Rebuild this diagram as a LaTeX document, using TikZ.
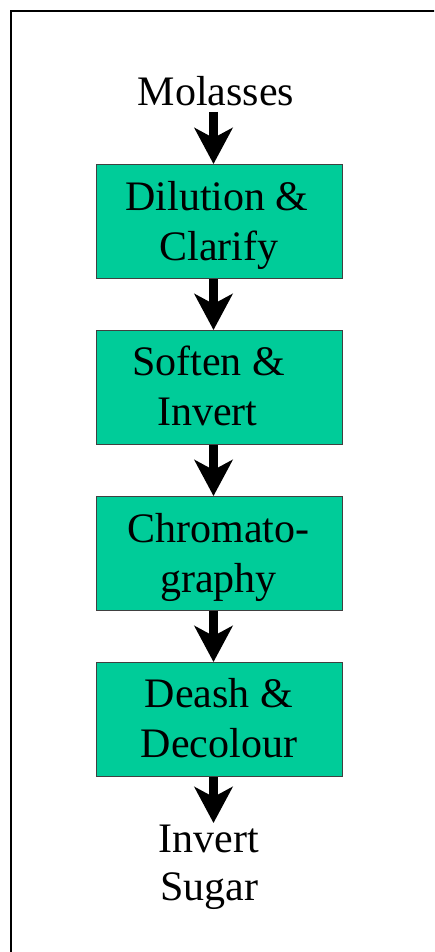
\documentclass[tikz,border=0pt]{standalone}
\usepackage{fontspec}
\setmainfont{Liberation Serif}
\usetikzlibrary{arrows.meta,calc}
\definecolor{boxgreen}{RGB}{0,204,153}
\tikzset{
  procbox/.style={draw=black!75, line width=1pt, fill=boxgreen, minimum width=246pt, minimum height=114pt, inner sep=0pt, anchor=north},
  lbl/.style={font=\fontsize{42}{50}\selectfont, inner sep=0pt, anchor=base},
  flowarrow/.style={line width=8.5pt, -{Stealth[length=36pt,width=38pt,inset=10pt]}},
  frameline/.style={line width=2pt, draw=black}
}
\begin{document}
\begin{tikzpicture}[x=1pt,y=-1pt]
\useasboundingbox (0,0) rectangle (434,952);
\clip (0,0) rectangle (434,952);
\draw[frameline] (11,11) rectangle (470,990);

\node[procbox] (b1) at (219,164) {};
\node[procbox] (b2) at (219,330) {};
\node[procbox] (b3) at (219,496) {};
\node[procbox] (b4) at (219,662) {};

\node[lbl] (mol) at (216,106) {Molasses};
\node[lbl] (t1a) at (217,210) {Dilution \&};
\node[lbl] (t1b) at (219,260) {Clarify};
\node[lbl] (t2a) at (208.5,375) {Soften \&};
\node[lbl] (t2b) at (207.5,425) {Invert};
\node[lbl] (t3a) at (218.5,542) {Chromato-};
\node[lbl] (t3b) at (218.5,592) {graphy};
\node[lbl] (t4a) at (219,707) {Deash \&};
\node[lbl] (t4b) at (219,757) {Decolour};
\node[lbl] (out1) at (209,852) {Invert};
\node[lbl] (out2) at (209,900) {Sugar};

\coordinate (a0s) at (213.5,112);
\draw[flowarrow] (a0s) -- (a0s |- b1.north);
\draw[flowarrow] ([xshift=-5.5pt]b1.south) -- ([xshift=-5.5pt]b2.north);
\draw[flowarrow] ([xshift=-5.5pt]b2.south) -- ([xshift=-5.5pt]b3.north);
\draw[flowarrow] ([xshift=-5.5pt]b3.south) -- ([xshift=-5.5pt]b4.north);
\coordinate (a4e) at (213.5,823);
\draw[flowarrow] ([xshift=-5.5pt]b4.south) -- (a4e);
\end{tikzpicture}
\end{document}
